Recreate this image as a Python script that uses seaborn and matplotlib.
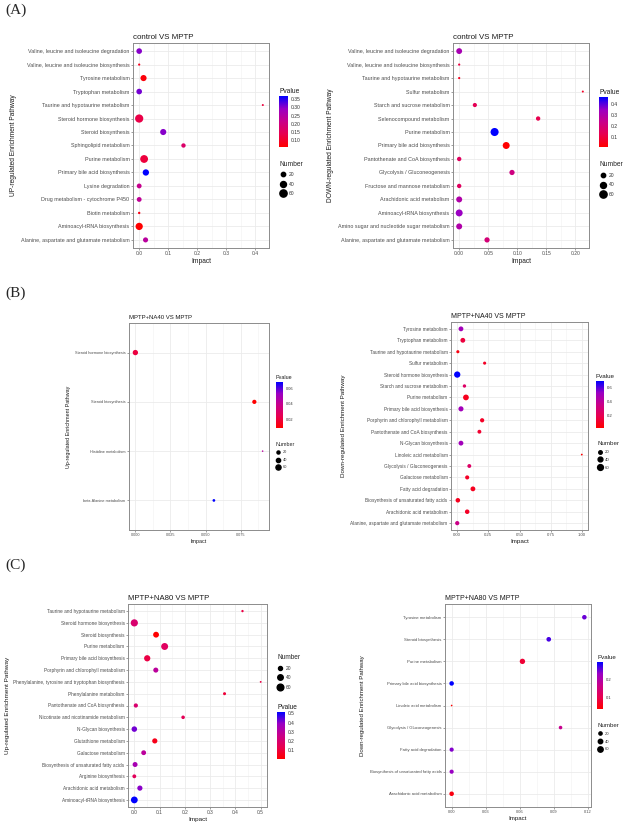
import numpy as np
import pandas as pd
import seaborn as sns
import matplotlib
matplotlib.use('Agg')
import matplotlib.pyplot as plt
from matplotlib.colors import LinearSegmentedColormap, Normalize
from matplotlib.cm import ScalarMappable
from matplotlib.lines import Line2D
from matplotlib.ticker import MultipleLocator, FormatStrFormatter

sns.set_theme(style='white')
plt.rcParams['font.family'] = ['Liberation Sans', 'DejaVu Sans']

W, H = 625, 825

# ---- (A) control VS MPTP, up-regulated ----
a_up_cats = ['Valine, leucine and isoleucine degradation', 'Valine, leucine and isoleucine biosynthesis',
             'Tyrosine metabolism', 'Tryptophan metabolism', 'Taurine and hypotaurine metabolism',
             'Steroid hormone biosynthesis', 'Steroid biosynthesis', 'Sphingolipid metabolism',
             'Purine metabolism', 'Primary bile acid biosynthesis', 'Lysine degradation',
             'Drug metabolism - cytochrome P450', 'Biotin metabolism', 'Aminoacyl-tRNA biosynthesis',
             'Alanine, aspartate and glutamate metabolism']
a_up_impact = [0.0, 0.0, 0.015, 0.0, 0.427, 0.0, 0.083, 0.153, 0.017, 0.023, 0.0, 0.0, 0.0, 0.0, 0.022]
a_up_pval = [0.30, 0.09, 0.07, 0.31, 0.12, 0.13, 0.30, 0.17, 0.12, 0.368, 0.22, 0.23, 0.08, 0.06, 0.24]
a_up_num = [35, 3, 42, 35, 2, 78, 42, 20, 70, 45, 25, 25, 4, 60, 28]

# ---- (A) control VS MPTP, down-regulated ----
a_dn_cats = ['Valine, leucine and isoleucine degradation', 'Valine, leucine and isoleucine biosynthesis',
             'Taurine and hypotaurine metabolism', 'Sulfur metabolism', 'Starch and sucrose metabolism',
             'Selenocompound metabolism', 'Purine metabolism', 'Primary bile acid biosynthesis',
             'Pantothenate and CoA biosynthesis', 'Glycolysis / Gluconeogenesis',
             'Fructose and mannose metabolism', 'Arachidonic acid metabolism', 'Aminoacyl-tRNA biosynthesis',
             'Amino sugar and nucleotide sugar metabolism', 'Alanine, aspartate and glutamate metabolism']
a_dn_impact = [0.0, 0.0, 0.0, 0.213, 0.027, 0.136, 0.061, 0.081, 0.0, 0.091, 0.0, 0.0, 0.0, 0.0, 0.048]
a_dn_pval = [0.32, 0.10, 0.05, 0.06, 0.13, 0.12, 0.47, 0.003, 0.15, 0.22, 0.15, 0.30, 0.35, 0.30, 0.20]
a_dn_num = [38, 3, 3, 2, 18, 20, 75, 55, 20, 30, 20, 40, 55, 40, 30]

# ---- (B) MPTP+NA40 VS MPTP, up-regulated ----
b_up_cats = ['Steroid hormone biosynthesis', 'Steroid biosynthesis', 'Histidine metabolism',
             'beta-Alanine metabolism']
b_up_impact = [0.0, 0.0847, 0.0906, 0.0559]
b_up_pval = [0.021, 0.009, 0.044, 0.068]
b_up_num = [65, 40, 3, 15]

# ---- (B) MPTP+NA40 VS MPTP, down-regulated ----
b_dn_cats = ['Tyrosine metabolism', 'Tryptophan metabolism', 'Taurine and hypotaurine metabolism',
             'Sulfur metabolism', 'Steroid hormone biosynthesis', 'Starch and sucrose metabolism',
             'Purine metabolism', 'Primary bile acid biosynthesis', 'Porphyrin and chlorophyll metabolism',
             'Pantothenate and CoA biosynthesis', 'N-Glycan biosynthesis', 'Linoleic acid metabolism',
             'Glycolysis / Gluconeogenesis', 'Galactose metabolism', 'Fatty acid degradation',
             'Biosynthesis of unsaturated fatty acids', 'Arachidonic acid metabolism',
             'Alanine, aspartate and glutamate metabolism']
b_dn_impact = [0.03, 0.045, 0.005, 0.22, 0.0, 0.058, 0.07, 0.03, 0.2, 0.178, 0.03, 1.0,
               0.097, 0.08, 0.126, 0.005, 0.08, 0.0]
b_dn_pval = [0.50, 0.15, 0.05, 0.10, 0.70, 0.25, 0.08, 0.50, 0.10, 0.12, 0.50, 0.015,
             0.25, 0.10, 0.08, 0.08, 0.10, 0.35]
b_dn_num = [40, 40, 15, 15, 70, 18, 58, 45, 30, 25, 40, 3, 25, 28, 40, 35, 35, 30]

# ---- (C) MPTP+NA80 VS MPTP, up-regulated ----
c_up_cats = ['Taurine and hypotaurine metabolism', 'Steroid hormone biosynthesis', 'Steroid biosynthesis',
             'Purine metabolism', 'Primary bile acid biosynthesis', 'Porphyrin and chlorophyll metabolism',
             'Phenylalanine, tyrosine and tryptophan biosynthesis', 'Phenylalanine metabolism',
             'Pantothenate and CoA biosynthesis', 'Nicotinate and nicotinamide metabolism',
             'N-Glycan biosynthesis', 'Glutathione metabolism', 'Galactose metabolism',
             'Biosynthesis of unsaturated fatty acids', 'Arginine biosynthesis',
             'Arachidonic acid metabolism', 'Aminoacyl-tRNA biosynthesis']
c_up_impact = [0.428, 0.0, 0.086, 0.12, 0.051, 0.085, 0.5, 0.357, 0.006, 0.193, 0.0, 0.081, 0.037,
               0.003, 0.0, 0.022, 0.0]
c_up_pval = [0.12, 0.20, 0.008, 0.17, 0.12, 0.30, 0.12, 0.10, 0.20, 0.15, 0.42, 0.05, 0.30,
             0.35, 0.16, 0.40, 0.514]
c_up_num = [5, 70, 45, 65, 52, 33, 2, 10, 22, 15, 40, 35, 30, 32, 18, 35, 62]

# ---- (C) MPTP+NA80 VS MPTP, down-regulated ----
c_dn_cats = ['Tyrosine metabolism', 'Steroid biosynthesis', 'Purine metabolism',
             'Primary bile acid biosynthesis', 'Linoleic acid metabolism', 'Glycolysis / Gluconeogenesis',
             'Fatty acid degradation', 'Biosynthesis of unsaturated fatty acids', 'Arachidonic acid metabolism']
c_dn_impact = [0.117, 0.0856, 0.0624, 0.0, 0.0, 0.096, 0.0, 0.0, 0.0]
c_dn_pval = [0.25, 0.265, 0.08, 0.295, 0.036, 0.17, 0.24, 0.23, 0.05]
c_dn_num = [42, 44, 60, 42, 3, 25, 35, 35, 42]

size_levels = [20, 40, 60]

cmap = LinearSegmentedColormap.from_list('rb', ['#FF0000', '#E8004F', '#C90089', '#9A00C3', '#0000FF'])


def box(x0, y0, x1, y1):
    return [x0 / W, 1 - y1 / H, (x1 - x0) / W, (y1 - y0) / H]


def bubble(fig, rect, cats, impact, pval, number, title, ylabel, xstep, xfmt,
           pticks, pfmt, cbar_rect, leg_xy, fs, sf):
    ax = fig.add_axes(box(*rect))
    df = pd.DataFrame({'Pathway': cats[::-1], 'Impact': impact[::-1],
                       'Pvalue': pval[::-1], 'Number': number[::-1]})
    vmin, vmax = min(pval), max(pval)
    smin, smax = 1.2 * sf, 36 * sf
    sns.scatterplot(data=df, x='Impact', y='Pathway', hue='Pvalue', size='Number',
                    palette=cmap, hue_norm=(vmin, vmax), sizes=(smin, smax), size_norm=(0, 80),
                    linewidth=0, legend=False, ax=ax, zorder=3)
    lo, hi = min(impact), max(impact)
    pad = 0.05 * (hi - lo)
    ax.set_xlim(lo - pad, hi + pad)
    ax.set_ylim(-0.6, len(cats) - 0.4)
    ax.xaxis.set_major_locator(MultipleLocator(xstep))
    ax.xaxis.set_minor_locator(MultipleLocator(xstep / 2))
    ax.xaxis.set_major_formatter(FormatStrFormatter(xfmt))
    ax.grid(which='major', color='#EBEBEB', lw=0.6)
    ax.grid(which='minor', axis='x', color='#F2F2F2', lw=0.4)
    ax.set_axisbelow(True)
    for sp in ax.spines.values():
        sp.set_color('#8C8C8C')
        sp.set_linewidth(0.7)
    ax.tick_params(axis='both', which='major', length=1.5, width=0.4, color='#555555',
                   labelsize=fs['tick'], labelcolor='#4D4D4D', pad=1, bottom=True, left=True)
    ax.tick_params(axis='y', labelsize=fs['cat'])
    ax.tick_params(which='minor', length=0)
    ax.set_title(title, fontsize=fs['title'], loc='left', pad=3, color='#1A1A1A')
    ax.set_xlabel('Impact', fontsize=fs['lab'], labelpad=1, color='#1A1A1A')
    ax.set_ylabel(ylabel, fontsize=fs['lab'], labelpad=fs.get('ypad', 3), color='#1A1A1A')

    # Pvalue colour bar
    cax = fig.add_axes(box(*cbar_rect))
    cb = fig.colorbar(ScalarMappable(Normalize(vmin, vmax), cmap), cax=cax,
                      ticks=pticks, format=pfmt)
    cb.outline.set_visible(False)
    cax.tick_params(direction='in', length=1.5, width=0.4, color='white',
                    labelsize=fs['leg'], labelcolor='#333333', pad=2)
    cax.set_title('Pvalue', fontsize=fs['legtitle'], loc='left', pad=2, color='#1A1A1A')

    # Number size legend
    handles = [Line2D([], [], ls='', marker='o', color='black',
                      markersize=np.sqrt(smin + v / 80 * (smax - smin))) for v in size_levels]
    leg = fig.legend(handles, [str(v) for v in size_levels], title='Number', loc='upper left',
                     bbox_to_anchor=(leg_xy[0] / W, 1 - leg_xy[1] / H), frameon=False,
                     fontsize=fs['leg'], title_fontsize=fs['legtitle'], borderpad=0,
                     handletextpad=0.6, labelspacing=0.9, handlelength=1.2, alignment='left')
    for t in leg.get_texts():
        t.set_color('#333333')
    return ax


fig = plt.figure(figsize=(6.25, 8.25), dpi=100)

fs_a = dict(cat=3.9, tick=3.6, title=5.7, lab=4.8, leg=3.6, legtitle=4.8)
fs_b1 = dict(cat=2.75, tick=2.7, title=4.3, lab=3.9, leg=2.8, legtitle=3.9)
fs_b2 = dict(cat=3.4, tick=3.1, title=5.0, lab=4.5, leg=3.1, legtitle=4.5)
fs_c1 = dict(cat=3.45, tick=3.5, title=5.6, lab=4.6, leg=3.5, legtitle=4.7, ypad=2)
fs_c2 = dict(cat=3.1, tick=2.9, title=5.0, lab=4.4, leg=3.0, legtitle=4.4)

bubble(fig, (133, 43, 269, 248), a_up_cats, a_up_impact, a_up_pval, a_up_num,
       'control VS MPTP', 'UP-regulated Enrichment Pathway', 0.1, '%.1f',
       [0.10, 0.15, 0.20, 0.25, 0.30, 0.35], '%.2f', (279, 96, 288, 147), (277, 158), fs_a, 1.0)
bubble(fig, (453, 43, 589, 248), a_dn_cats, a_dn_impact, a_dn_pval, a_dn_num,
       'control VS MPTP', 'DOWN-regulated Enrichment Pathway', 0.05, '%.2f',
       [0.1, 0.2, 0.3, 0.4], '%.1f', (599, 97, 608, 147), (597, 159), fs_a, 1.0)
bubble(fig, (129, 323, 269, 530), b_up_cats, b_up_impact, b_up_pval, b_up_num,
       'MPTP+NA40 VS MPTP', 'Up-regulated Enrichment Pathway', 0.025, '%.3f',
       [0.02, 0.04, 0.06], '%.2f', (276, 382, 283, 428), (274, 440), fs_b1, 0.5)
bubble(fig, (451, 322, 588, 530), b_dn_cats, b_dn_impact, b_dn_pval, b_dn_num,
       'MPTP+NA40 VS MPTP', 'Down-regulated Enrichment Pathway', 0.25, '%.2f',
       [0.2, 0.4, 0.6], '%.1f', (596, 381, 604, 428), (595, 439), fs_b2, 0.65)
bubble(fig, (128, 604, 267, 807), c_up_cats, c_up_impact, c_up_pval, c_up_num,
       'MPTP+NA80 VS MPTP', 'Up-regulated Enrichment Pathway', 0.1, '%.1f',
       [0.1, 0.2, 0.3, 0.4, 0.5], '%.1f', (277, 712, 285, 759), (275, 652), fs_c1, 0.85)
bubble(fig, (445, 604, 591, 807), c_dn_cats, c_dn_impact, c_dn_pval, c_dn_num,
       'MPTP+NA80 VS MPTP', 'Down-regulated Enrichment Pathway', 0.03, '%.2f',
       [0.1, 0.2], '%.1f', (597, 662, 603, 709), (595, 721), fs_c2, 0.55)

for lab, y in [('(A)', 10), ('(B)', 293), ('(C)', 565)]:
    fig.text(5 / W, 1 - y / H, lab, fontsize=11, family='Liberation Serif', va='center', ha='left')

fig.savefig('out.png', dpi=100, facecolor='white')
